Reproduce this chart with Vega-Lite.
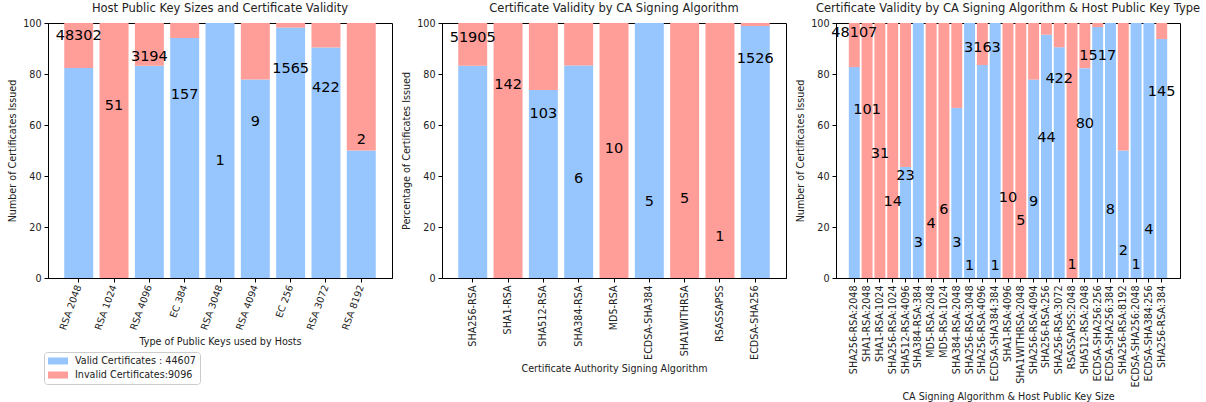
{
  "$schema": "https://vega.github.io/schema/vega-lite/v6.json",
  "padding": {"left": 7, "top": 2, "right": 2, "bottom": 2},
  "background": "white",
  "config": {
    "font": "DejaVu Sans",
    "view": {"stroke": "black", "strokeWidth": 1},
    "axis": {"grid": false, "domainColor": "black", "tickColor": "black", "labelColor": "#222", "titleColor": "#222", "labelFont": "DejaVu Sans", "titleFont": "DejaVu Sans", "labelFontSize": 9.6, "titleFontSize": 9.6, "titleFontWeight": "normal", "tickSize": 4, "labelPadding": 3},
    "axisY": {"titlePadding": 5},
    "title": {"fontSize": 11.5, "fontWeight": "normal", "font": "DejaVu Sans", "color": "#222", "offset": 4, "frame": "group"},
    "concat": {"spacing": 8}
  },
  "datasets": {
    "keys": [
      {"key": "RSA 2048", "Valid": 82.4, "Invalid": 17.6, "count": 48302, "ly": 94.8},
      {"key": "RSA 1024", "Valid": 0, "Invalid": 100, "count": 51, "ly": 67.5},
      {"key": "RSA 4096", "Valid": 83.2, "Invalid": 16.8, "count": 3194, "ly": 86.7},
      {"key": "EC 384", "Valid": 94.1, "Invalid": 5.9, "count": 157, "ly": 71.7},
      {"key": "RSA 3048", "Valid": 100, "Invalid": 0, "count": 1, "ly": 46},
      {"key": "RSA 4094", "Valid": 77.8, "Invalid": 22.2, "count": 9, "ly": 61},
      {"key": "EC 256", "Valid": 98.2, "Invalid": 1.8, "count": 1565, "ly": 81.9},
      {"key": "RSA 3072", "Valid": 90.4, "Invalid": 9.6, "count": 422, "ly": 74.7},
      {"key": "RSA 8192", "Valid": 50, "Invalid": 50, "count": 2, "ly": 54}
    ],
    "algs": [
      {"key": "SHA256-RSA", "Valid": 83.2, "Invalid": 16.8, "count": 51905, "ly": 94.3},
      {"key": "SHA1-RSA", "Valid": 0, "Invalid": 100, "count": 142, "ly": 75.6},
      {"key": "SHA512-RSA", "Valid": 73.7, "Invalid": 26.3, "count": 103, "ly": 64.2},
      {"key": "SHA384-RSA", "Valid": 83.3, "Invalid": 16.7, "count": 6, "ly": 39},
      {"key": "MD5-RSA", "Valid": 0, "Invalid": 100, "count": 10, "ly": 50.5},
      {"key": "ECDSA-SHA384", "Valid": 100, "Invalid": 0, "count": 5, "ly": 29.9},
      {"key": "SHA1WITHRSA", "Valid": 0, "Invalid": 100, "count": 5, "ly": 31},
      {"key": "RSASSAPSS", "Valid": 0, "Invalid": 100, "count": 1, "ly": 16.2},
      {"key": "ECDSA-SHA256", "Valid": 98.8, "Invalid": 1.2, "count": 1526, "ly": 86}
    ],
    "combo": [
      {"key": "SHA256-RSA:2048", "Valid": 82.7, "Invalid": 17.3, "count": 48107, "ly": 96.1},
      {"key": "SHA1-RSA:2048", "Valid": 0, "Invalid": 100, "count": 101, "ly": 65.8},
      {"key": "SHA1-RSA:1024", "Valid": 0, "Invalid": 100, "count": 31, "ly": 48.6},
      {"key": "SHA256-RSA:1024", "Valid": 0, "Invalid": 100, "count": 14, "ly": 29.7},
      {"key": "SHA512-RSA:4096", "Valid": 43.5, "Invalid": 56.5, "count": 23, "ly": 40.1},
      {"key": "SHA384-RSA:384", "Valid": 100, "Invalid": 0, "count": 3, "ly": 13.7},
      {"key": "MD5-RSA:2048", "Valid": 0, "Invalid": 100, "count": 4, "ly": 21.2},
      {"key": "MD5-RSA:1024", "Valid": 0, "Invalid": 100, "count": 6, "ly": 26.8},
      {"key": "SHA384-RSA:2048", "Valid": 66.7, "Invalid": 33.3, "count": 3, "ly": 13.7},
      {"key": "SHA256-RSA:3048", "Valid": 100, "Invalid": 0, "count": 1, "ly": 4.6},
      {"key": "SHA256-RSA:4096", "Valid": 83.5, "Invalid": 16.5, "count": 3163, "ly": 90.2},
      {"key": "ECDSA-SHA384:384", "Valid": 100, "Invalid": 0, "count": 1, "ly": 4.6},
      {"key": "SHA1-RSA:4096", "Valid": 0, "Invalid": 100, "count": 10, "ly": 31.4},
      {"key": "SHA1WITHRSA:2048", "Valid": 0, "Invalid": 100, "count": 5, "ly": 22.2},
      {"key": "SHA256-RSA:4094", "Valid": 77.8, "Invalid": 22.2, "count": 9, "ly": 29.7},
      {"key": "SHA256-RSA:256", "Valid": 95.4, "Invalid": 4.6, "count": 44, "ly": 54.9},
      {"key": "SHA256-RSA:3072", "Valid": 90.5, "Invalid": 9.5, "count": 422, "ly": 78},
      {"key": "RSASSAPSS:2048", "Valid": 0, "Invalid": 100, "count": 1, "ly": 5.2},
      {"key": "SHA512-RSA:2048", "Valid": 82.3, "Invalid": 17.7, "count": 80, "ly": 60.4},
      {"key": "ECDSA-SHA256:256", "Valid": 98.4, "Invalid": 1.6, "count": 1517, "ly": 87},
      {"key": "ECDSA-SHA256:384", "Valid": 100, "Invalid": 0, "count": 8, "ly": 26.8},
      {"key": "SHA256-RSA:8192", "Valid": 50, "Invalid": 50, "count": 2, "ly": 10.5},
      {"key": "ECDSA-SHA256:2048", "Valid": 100, "Invalid": 0, "count": 1, "ly": 5.2},
      {"key": "ECDSA-SHA384:256", "Valid": 100, "Invalid": 0, "count": 4, "ly": 18.9},
      {"key": "SHA256-RSA:384", "Valid": 93.7, "Invalid": 6.3, "count": 145, "ly": 72.8}
    ]
  },
  "hconcat": [
    {
      "width": 344, "height": 255,
      "title": "Host Public Key Sizes and Certificate Validity",
      "data": {"name": "keys"},
      "layer": [
        {
          "transform": [{"fold": ["Valid", "Invalid"], "as": ["status", "pct"]}],
          "mark": {"type": "bar"},
          "encoding": {
            "x": {"field": "key", "type": "nominal", "sort": null, "title": "Type of Public Keys used by Hosts", "scale": {"paddingInner": 0.18, "paddingOuter": 0.46}, "axis": {"labelAngle": -70, "titlePadding": 6}},
            "y": {"field": "pct", "type": "quantitative", "stack": "zero", "scale": {"domain": [0, 100], "nice": false}, "axis": {"values": [0, 20, 40, 60, 80, 100]}, "title": "Number of Certificates Issued"},
            "color": {"field": "status", "type": "nominal", "scale": {"domain": ["Valid", "Invalid"], "range": ["#97c6ff", "#ff9d99"]},
              "legend": {"title": null, "orient": "none", "legendX": -4, "legendY": 329, "labelExpr": "datum.label == 'Valid' ? 'Valid Certificates : 44607' : 'Invalid Certificates:9096'", "symbolType": "M-2,-0.7H2V0.7H-2Z", "symbolSize": 100, "symbolOffset": 5, "strokeColor": "#cccccc", "padding": 4, "cornerRadius": 3, "fillColor": "white", "labelFontSize": 9.6, "labelFont": "DejaVu Sans", "labelColor": "#222", "symbolStrokeWidth": 0, "rowPadding": 4, "labelOffset": 12, "symbolOpacity": 1}},
            "order": {"field": "status", "sort": "descending"}
          }
        },
        {
          "mark": {"type": "text", "fontSize": 14.5, "color": "black", "baseline": "middle", "font": "DejaVu Sans"},
          "encoding": {
            "x": {"field": "key", "type": "nominal", "sort": null},
            "y": {"field": "ly", "type": "quantitative", "title": "Number of Certificates Issued"},
            "text": {"field": "count", "type": "nominal"}
          }
        }
      ]
    },
    {
      "width": 344, "height": 255,
      "title": "Certificate Validity by CA Signing Algorithm",
      "data": {"name": "algs"},
      "layer": [
        {
          "transform": [{"fold": ["Valid", "Invalid"], "as": ["status", "pct"]}],
          "mark": {"type": "bar"},
          "encoding": {
            "x": {"field": "key", "type": "nominal", "sort": null, "title": "Certificate Authority Signing Algorithm", "scale": {"paddingInner": 0.18, "paddingOuter": 0.46}, "axis": {"labelAngle": -90}},
            "y": {"field": "pct", "type": "quantitative", "stack": "zero", "scale": {"domain": [0, 100], "nice": false}, "axis": {"values": [0, 20, 40, 60, 80, 100]}, "title": "Percentage of Certificates Issued"},
            "color": {"field": "status", "type": "nominal", "scale": {"domain": ["Valid", "Invalid"], "range": ["#97c6ff", "#ff9d99"]}, "legend": null},
            "order": {"field": "status", "sort": "descending"}
          }
        },
        {
          "mark": {"type": "text", "fontSize": 14.5, "color": "black", "baseline": "middle", "font": "DejaVu Sans"},
          "encoding": {
            "x": {"field": "key", "type": "nominal", "sort": null},
            "y": {"field": "ly", "type": "quantitative", "title": "Percentage of Certificates Issued"},
            "text": {"field": "count", "type": "nominal"}
          }
        }
      ]
    },
    {
      "width": 344, "height": 255,
      "title": "Certificate Validity by CA Signing Algorithm & Host Public Key Type",
      "data": {"name": "combo"},
      "layer": [
        {
          "transform": [{"fold": ["Valid", "Invalid"], "as": ["status", "pct"]}],
          "mark": {"type": "bar"},
          "encoding": {
            "x": {"field": "key", "type": "nominal", "sort": null, "title": "CA Signing Algorithm & Host Public Key Size", "scale": {"paddingInner": 0.145, "paddingOuter": 1.2}, "axis": {"labelAngle": -90}},
            "y": {"field": "pct", "type": "quantitative", "stack": "zero", "scale": {"domain": [0, 100], "nice": false}, "axis": {"values": [0, 20, 40, 60, 80, 100]}, "title": "Number of Certificates Issued"},
            "color": {"field": "status", "type": "nominal", "scale": {"domain": ["Valid", "Invalid"], "range": ["#97c6ff", "#ff9d99"]}, "legend": null},
            "order": {"field": "status", "sort": "descending"}
          }
        },
        {
          "mark": {"type": "text", "fontSize": 14.5, "color": "black", "baseline": "middle", "font": "DejaVu Sans"},
          "encoding": {
            "x": {"field": "key", "type": "nominal", "sort": null},
            "y": {"field": "ly", "type": "quantitative", "title": "Number of Certificates Issued"},
            "text": {"field": "count", "type": "nominal"}
          }
        }
      ]
    }
  ],
  "resolve": {"legend": {"color": "independent"}}
}
